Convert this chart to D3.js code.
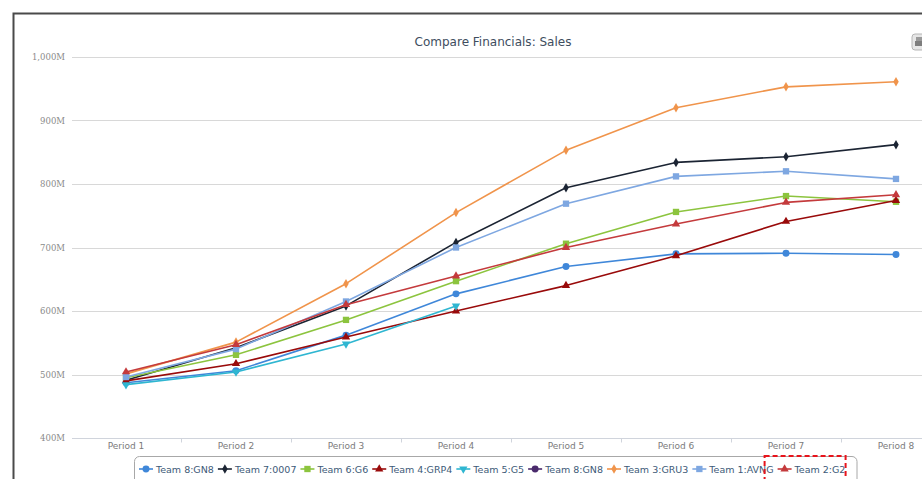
<!DOCTYPE html>
<html>
<head>
<meta charset="utf-8">
<script src="https://cdn.jsdelivr.net/npm/d3@7"></script>
<style>
  html, body { margin: 0; padding: 0; background: #fff; overflow: hidden; }
  svg { display: block; font-family: "DejaVu Sans", "Lucida Grande", Verdana, sans-serif; }
</style>
</head>
<body>
<svg id="chart" width="922" height="479"></svg>
<script>
// Periods along the x axis
const periods = ["Period 1", "Period 2", "Period 3", "Period 4", "Period 5", "Period 6", "Period 7", "Period 8"];

// Sales per team, in millions
const team8GN8  = [487, 506, 562, 627, 670, 690, 691, 689];
const team7_0007 = [491, 542, 608, 708, 794, 834, 843, 862];
const team6G6   = [495, 531, 586, 647, 706, 756, 781, 772];
const team4GRP4 = [490, 517, 559, 600, 640, 687, 741, 774];
const team5G5   = [484, 504, 548, 608, null, null, null, null];
const team8GN8b = [null, null, null, null, null, null, null, null];
const team3GRU3 = [501, 551, 643, 755, 853, 920, 953, 961];
const team1AVNG = [496, 540, 615, 700, 769, 812, 820, 808];
const team2G2   = [504, 547, 610, 655, 700, 737, 771, 783];

// Y axis ticks (millions)
const yTicks = [400, 500, 600, 700, 800, 900, 1000];

const series = [
  { name: "Team 8:GN8",  values: team8GN8,   color: "#3f87d9", symbol: "circle" },
  { name: "Team 7:0007", values: team7_0007, color: "#1b2433", symbol: "diamond" },
  { name: "Team 6:G6",   values: team6G6,    color: "#8cc43e", symbol: "square" },
  { name: "Team 4:GRP4", values: team4GRP4,  color: "#990a0a", symbol: "triangle" },
  { name: "Team 5:G5",   values: team5G5,    color: "#2fb6d1", symbol: "triangle-down" },
  { name: "Team 8:GN8",  values: team8GN8b,  color: "#4a2a6c", symbol: "circle" },
  { name: "Team 3:GRU3", values: team3GRU3,  color: "#f0944b", symbol: "diamond" },
  { name: "Team 1:AVNG", values: team1AVNG,  color: "#7ea7e1", symbol: "square" },
  { name: "Team 2:G2",   values: team2G2,    color: "#c43a3c", symbol: "triangle" }
];

const svg = d3.select("#chart");

// Plot area
const plotLeft = 71, plotRight = 951, plotTop = 57, plotBottom = 438;

const x = d3.scaleBand().domain(periods).range([plotLeft, plotRight]).padding(0);
const cx = p => x(p) + x.bandwidth() / 2;
const y = d3.scaleLinear().domain([400, 1000]).range([plotBottom, plotTop]);

// Outer frame (top and left edges)
svg.append("path")
  .attr("d", "M13.5,479 L13.5,13.5 L922,13.5")
  .attr("fill", "none").attr("stroke", "#4a4a4a").attr("stroke-width", 2);

// Title
svg.append("text")
  .attr("x", 493).attr("y", 46)
  .attr("text-anchor", "middle")
  .attr("font-size", 12)
  .attr("fill", "#3e4d5e")
  .text("Compare Financials: Sales");

// Export button (top right)
const btn = svg.append("g").attr("transform", "translate(912,34)");
btn.append("rect").attr("width", 20).attr("height", 16).attr("rx", 3)
  .attr("fill", "#e6e6e6").attr("stroke", "#b5b5b5");
btn.append("rect").attr("x", 4).attr("y", 3).attr("width", 8).attr("height", 4).attr("fill", "#9a9a9a");
btn.append("rect").attr("x", 3).attr("y", 7).attr("width", 10).attr("height", 5).attr("fill", "#7d7d7d");

// Horizontal grid lines
svg.append("g").selectAll("line")
  .data(yTicks.filter(v => v !== 400))
  .join("line")
  .attr("x1", 72).attr("x2", 922)
  .attr("y1", d => Math.round(y(d)) + 0.5).attr("y2", d => Math.round(y(d)) + 0.5)
  .attr("stroke", "#d8d8d8").attr("stroke-width", 1);

// Y axis labels
const yAxis = d3.axisLeft(y).tickValues(yTicks).tickSize(0).tickPadding(5)
  .tickFormat(d => d3.format(",")(d) + "M");
const gy = svg.append("g").attr("transform", `translate(${plotLeft - 1},0)`).call(yAxis);
gy.select(".domain").remove();
gy.selectAll("text").attr("font-size", 8.5).attr("fill", "#8a8a8a")
  .attr("font-family", "DejaVu Serif, serif");

// X axis
const gx = svg.append("g").attr("transform", `translate(0,${plotBottom + 0.5})`);
gx.append("line").attr("x1", 72).attr("x2", 922).attr("stroke", "#d0d4dc").attr("stroke-width", 1.2);
gx.selectAll("line.tick")
  .data(periods.slice(0, -1))
  .join("line").attr("class", "tick")
  .attr("x1", d => x(d) + x.bandwidth() + 0.5).attr("x2", d => x(d) + x.bandwidth() + 0.5)
  .attr("y1", 0).attr("y2", 4)
  .attr("stroke", "#d0d4dc");
gx.selectAll("text")
  .data(periods)
  .join("text")
  .attr("x", d => cx(d)).attr("y", 10)
  .attr("text-anchor", "middle")
  .attr("font-size", 9).attr("fill", "#7b7b7b")
  .text(d => d);

// Marker symbols
const symbolType = {
  "circle": d3.symbolCircle,
  "diamond": d3.symbolDiamond,
  "square": d3.symbolSquare,
  "triangle": d3.symbolTriangle,
  "triangle-down": d3.symbolTriangle
};
const symbolSize = { "circle": 38, "diamond": 26, "square": 40, "triangle": 30, "triangle-down": 30 };
function drawSymbol(g, s, px, py) {
  g.append("path")
    .attr("d", d3.symbol().type(symbolType[s.symbol]).size(symbolSize[s.symbol])())
    .attr("transform", `translate(${px},${py})` + (s.symbol === "triangle-down" ? " rotate(180)" : ""))
    .attr("fill", s.color);
}

// Lines and markers
const line = d3.line()
  .defined(d => d.v != null)
  .x(d => cx(d.p)).y(d => y(d.v));

const plot = svg.append("g");
series.forEach(s => {
  const pts = periods.map((p, i) => ({ p, v: s.values[i] }));
  const g = plot.append("g");
  g.append("path")
    .attr("d", line(pts))
    .attr("fill", "none").attr("stroke", s.color).attr("stroke-width", 1.6)
    .attr("stroke-linejoin", "round");
  pts.filter(d => d.v != null).forEach(d => drawSymbol(g, s, cx(d.p), y(d.v)));
});

// Legend
const legend = svg.append("g");
const legendBox = legend.append("rect")
  .attr("x", 134.5).attr("y", 456.5).attr("height", 40).attr("rx", 5)
  .attr("fill", "#fff").attr("stroke", "#a8a8a8");
const items = legend.append("g");
let lx = 139;
const itemPos = [];
series.forEach(s => {
  const gi = items.append("g");
  gi.append("line").attr("x1", lx).attr("x2", lx + 14).attr("y1", 469).attr("y2", 469)
    .attr("stroke", s.color).attr("stroke-width", 1.6);
  drawSymbol(gi, s, lx + 7, 469);
  const t = gi.append("text").attr("x", lx + 17).attr("y", 472.5)
    .attr("font-size", 9.5).attr("fill", "#3d5a78").text(s.name);
  const w = t.node().getComputedTextLength();
  itemPos.push(lx);
  lx += 17 + w + 4;
});
legendBox.attr("width", 857 - 134.5);

// Highlight around the last legend entry
const lastX = itemPos[itemPos.length - 1];
svg.append("rect")
  .attr("x", lastX - 13).attr("y", 456).attr("width", 81).attr("height", 24)
  .attr("fill", "none").attr("stroke", "#e8141b").attr("stroke-width", 2)
  .attr("stroke-dasharray", "5,3");
</script>
</body>
</html>
